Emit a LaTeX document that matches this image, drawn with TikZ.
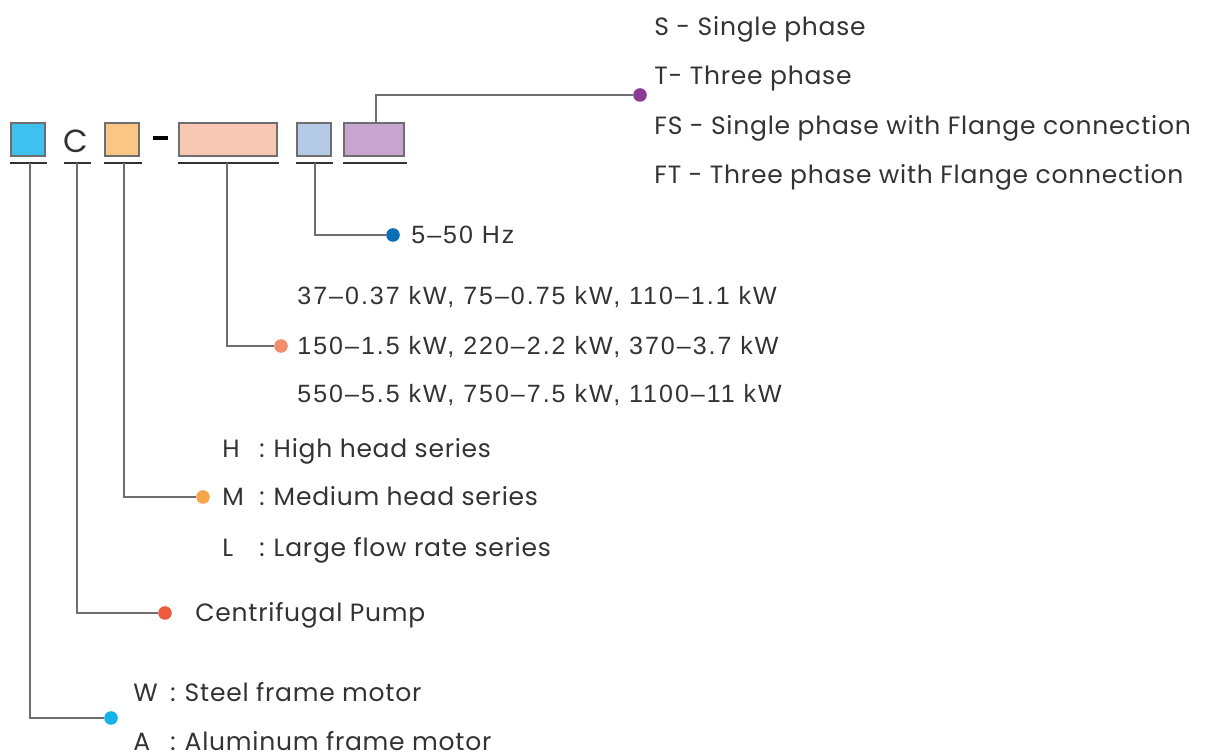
\documentclass[tikz,border=0pt]{standalone}
\usepackage{fontspec}
\setmainfont{Poppins}[LetterSpace=3]
\newfontfamily\numfont{Liberation Sans}[LetterSpace=8]
\usetikzlibrary{positioning,calc}
\definecolor{motorblue}{HTML}{3EC1EF}
\definecolor{motordot}{HTML}{14B4EA}
\definecolor{seriesorange}{HTML}{FBC586}
\definecolor{seriesdot}{HTML}{F5A54A}
\definecolor{powersalmon}{HTML}{F9C8B5}
\definecolor{powerdot}{HTML}{F08E6E}
\definecolor{freqblue}{HTML}{B5CAE6}
\definecolor{freqdot}{HTML}{0D6EB8}
\definecolor{phasepurple}{HTML}{C6A5D0}
\definecolor{phasedot}{HTML}{8B3B96}
\definecolor{pumpdot}{HTML}{EE5B3C}
\definecolor{linegray}{HTML}{6E6E6E}
\definecolor{txtgray}{HTML}{333333}
\newcommand\codekey[1]{\makebox[18.5pt][l]{#1}:\hspace{4.5pt}}

\begin{document}
\begin{tikzpicture}[
    x=0.5pt, y=-0.5pt,
    codebox/.style={rectangle, draw=linegray, line width=0.7pt, inner sep=0pt, minimum height=16.5pt},
    uline/.style={line width=1.3pt, draw=txtgray},
    link/.style={line width=0.7pt, draw=linegray},
    dot/.style={circle, inner sep=0pt, minimum size=6.8pt},
    lbl/.style={anchor=mid west, inner sep=0pt, yshift=-1.5pt, text=txtgray, font=\fontsize{12.5}{14}\selectfont},
    numlbl/.style={lbl, font=\numfont\fontsize{12.5}{14}\selectfont}
  ]
    \useasboundingbox (0,0) rectangle (1207,754);
    % model code boxes
    \node[codebox, fill=motorblue, minimum width=17pt] (motor) at (28,139.5) {};
    \node[text=txtgray, font=\fontsize{16}{18}\selectfont, inner sep=0pt] (pump) at (76,141) {C};
    \node[codebox, fill=seriesorange, minimum width=17pt] (series) at (122,139.5) {};
    \draw[line width=1.6pt, draw=black] (153,138) -- (168,138);
    \node[codebox, fill=powersalmon, minimum width=49pt] (power) at (228,139.5) {};
    \node[codebox, fill=freqblue, minimum width=17pt] (freq) at (314,139.5) {};
    \node[codebox, fill=phasepurple, minimum width=30pt] (phase) at (374,139.5) {};
    % underlines
    \draw[uline] (10,163) -- (47,163);
    \draw[uline] (64,163) -- (91,163);
    \draw[uline] (104,163) -- (142,163);
    \draw[uline] (178,163) -- (279,163);
    \draw[uline] (296,163) -- (333,163);
    \draw[uline] (343,163) -- (407,163);
    \coordinate (motorU) at (30,163);
    \coordinate (pumpU) at (77,163);
    \coordinate (seriesU) at (124,163);
    \coordinate (powerU) at (227,163);
    \coordinate (freqU) at (315,163);
    \coordinate (phaseU) at (376,123);
    % dots
    \node[dot, fill=phasedot] (phaseD) at (640,95) {};
    \node[dot, fill=freqdot] (freqD) at (393,235) {};
    \node[dot, fill=powerdot] (powerD) at (281,346) {};
    \node[dot, fill=seriesdot] (seriesD) at (203,497) {};
    \node[dot, fill=pumpdot] (pumpD) at (165,613) {};
    \node[dot, fill=motordot] (motorD) at (111,718) {};
    % connectors
    \draw[link] (phaseU) |- (phaseD);
    \draw[link] (freqU) |- (freqD);
    \draw[link] (powerU) |- (powerD);
    \draw[link] (seriesU) |- (seriesD);
    \draw[link] (pumpU) |- (pumpD);
    \draw[link] (motorU) |- (motorD);
    % labels
    \node[lbl] (s) at (654,27) {S - Single phase};
    \node[lbl] (t) at (654,76) {T- Three phase};
    \node[lbl] (fs) at (654,126) {FS - Single phase with Flange connection};
    \node[lbl] (ft) at (654,175) {FT - Three phase with Flange connection};
    \node[numlbl] (hz) at (411,235) {5–50 Hz};
    \node[numlbl] (kw1) at (297,296) {37–0.37 kW, 75–0.75 kW, 110–1.1 kW};
    \node[numlbl] (kw2) at (297,346) {150–1.5 kW, 220–2.2 kW, 370–3.7 kW};
    \node[numlbl] (kw3) at (297,394) {550–5.5 kW, 750–7.5 kW, 1100–11 kW};
    \node[lbl] (h) at (222,449) {\codekey{H}High head series};
    \node[lbl] (m) at (222,497) {\codekey{M}Medium head series};
    \node[lbl] (l) at (222,548) {\codekey{L}Large flow rate series};
    \node[lbl] (cp) at (195,613) {Centrifugal Pump};
    \node[lbl] (w) at (133,693) {\codekey{W}Steel frame motor};
    \node[lbl] (a) at (133,742) {\codekey{A}Aluminum frame motor};
  \end{tikzpicture}
\end{document}
